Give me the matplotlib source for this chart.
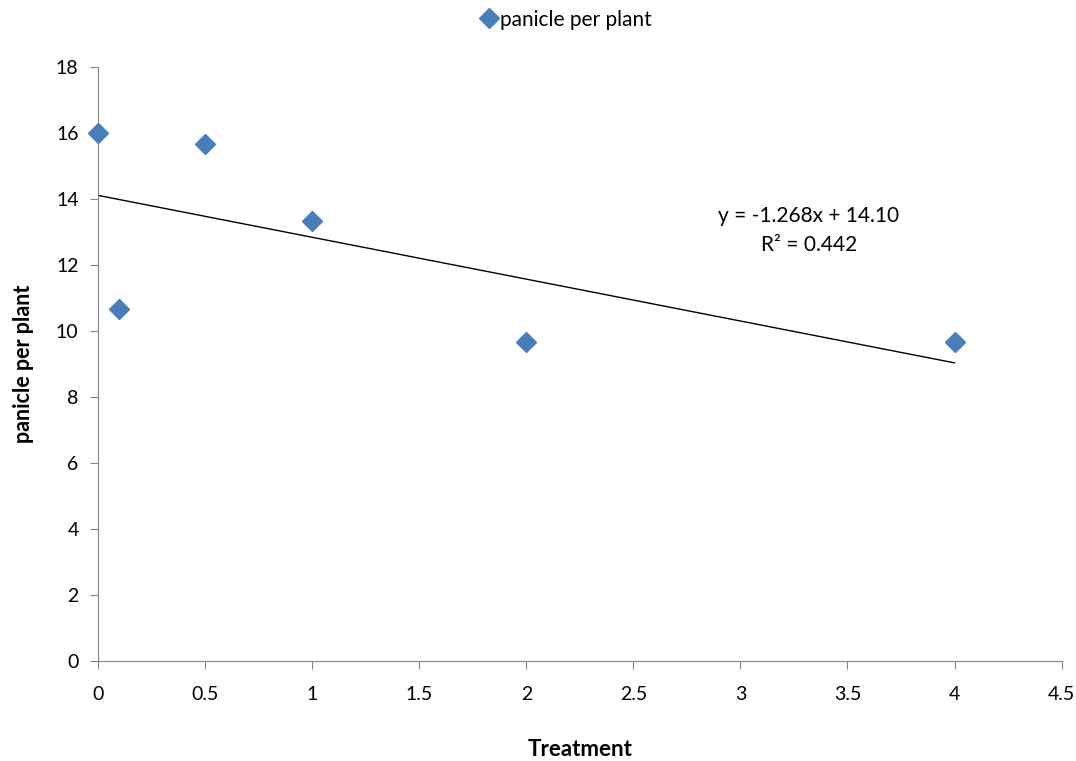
import numpy as np
import matplotlib.pyplot as plt

plt.rcParams['font.family'] = ['Lato', 'DejaVu Sans']

# data
treatment = [0, 0.1, 0.5, 1, 2, 4]
panicles = [16.0, 10.67, 15.67, 13.33, 9.67, 9.67]

fig = plt.figure(figsize=(10.76, 7.61), dpi=100)
ax = fig.add_axes([0.0911, 0.1314, 0.8955, 0.7806])

ax.plot(treatment, panicles, linestyle='none', marker='D', markersize=10,
        color='#4A7EBB', label='panicle per plant', clip_on=False, zorder=3)

# linear trendline
slope, intercept = np.polyfit(treatment, panicles, 1)
xfit = np.array([min(treatment), max(treatment)])
ax.plot(xfit, slope * xfit + intercept, color='black', linewidth=1)

ax.text(3.32, 12.3, 'y = -1.268x + 14.10\nR² = 0.442', ha='center', va='bottom',
        fontsize=15, linespacing=1.55)

ax.set_xlim(0, 4.5)
ax.set_ylim(0, 18)
ax.set_xticks(np.arange(0, 4.6, 0.5))
ax.set_xticklabels(['0', '0.5', '1', '1.5', '2', '2.5', '3', '3.5', '4', '4.5'])
ax.set_yticks(range(0, 19, 2))

for side in ['top', 'right']:
    ax.spines[side].set_visible(False)
for side in ['left', 'bottom']:
    ax.spines[side].set_color('#868686')
ax.tick_params(colors='#868686', labelcolor='black', labelsize=14, length=6, pad=8)
ax.tick_params(axis='x', pad=12)

ax.set_xlabel('Treatment', fontsize=16, fontweight='bold', labelpad=26)
ax.set_ylabel('panicle per plant', fontsize=15.5, fontweight='bold', labelpad=16)

fig.legend(loc='upper center', bbox_to_anchor=(0.525, 1.012), frameon=False,
           fontsize=15, handletextpad=0.0, handlelength=1.1)

fig.savefig('out.png', dpi=100)
